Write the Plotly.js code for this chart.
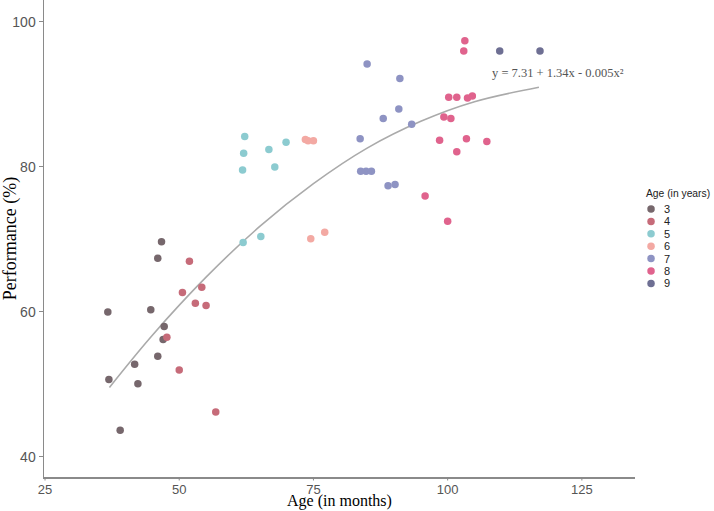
<!DOCTYPE html>
<html>
<head>
<meta charset="utf-8">
<script src="https://cdn.plot.ly/plotly-3.0.1.min.js"></script>
<style>html,body{margin:0;padding:0;background:#fff}#chart{width:714px;height:511px}</style>
</head>
<body>
<div id="chart"></div>
<script>
// ---- data ----
const ageGroups = ['3', '4', '5', '6', '7', '8', '9'];
const groupColors = ['#76676c', '#c66b79', '#8ccbd0', '#f3a9a3', '#8e93c3', '#e0638d', '#6e6f93'];

const age3Months = [46.7, 46.0, 36.7, 44.7, 47.2, 47.0, 46.0, 41.7, 36.9, 42.3, 39.0];
const age3Perf   = [69.7, 67.4, 60.0, 60.3, 58.0, 56.2, 53.9, 52.8, 50.7, 50.1, 43.7];

const age4Months = [51.9, 50.6, 54.2, 53.0, 55.0, 47.7, 50.0, 56.8];
const age4Perf   = [67.0, 62.7, 63.4, 61.2, 60.9, 56.5, 52.0, 46.2];

const age5Months = [62.2, 62.0, 61.8, 66.7, 69.9, 67.8, 61.9, 65.2];
const age5Perf   = [84.2, 81.9, 79.6, 82.4, 83.4, 80.0, 69.6, 70.4];

const age6Months = [73.5, 74.0, 75.0, 74.5, 77.1];
const age6Perf   = [83.8, 83.6, 83.6, 70.1, 71.0];

const age7Months = [85.0, 91.1, 90.9, 88.0, 93.3, 83.7, 83.8, 84.8, 85.8, 88.9, 90.2];
const age7Perf   = [94.2, 92.2, 88.0, 86.7, 85.9, 83.9, 79.4, 79.4, 79.4, 77.4, 77.6];

const age8Months = [103.0, 103.2, 100.2, 101.7, 103.7, 104.6, 99.3, 100.6, 98.5, 103.5, 107.3, 101.7, 95.8, 100.0];
const age8Perf   = [96.0, 97.4, 89.6, 89.6, 89.5, 89.8, 86.9, 86.7, 83.7, 83.9, 83.5, 82.1, 76.0, 72.5];

const age9Months = [109.7, 117.2];
const age9Perf   = [96.0, 96.0];

// fitted quadratic curve
const fitMonths = [37, 45, 55, 65, 75, 85, 95, 105, 117];
const fitPerf   = [49.6, 56.8, 64.8, 71.8, 77.7, 82.6, 86.3, 89.0, 91.0];
const fitLabel = 'y = 7.31 + 1.34x - 0.005x²';

const xTicks = [25, 50, 75, 100, 125];
const yTicks = [40, 60, 80, 100];
const xTitle = 'Age (in months)';
const yTitle = 'Performance (%)';
const legendTitle = 'Age (in years)';

// ---- build ----
const monthsByGroup = [age3Months, age4Months, age5Months, age6Months, age7Months, age8Months, age9Months];
const perfByGroup = [age3Perf, age4Perf, age5Perf, age6Perf, age7Perf, age8Perf, age9Perf];

const traces = [];
traces.push({
  x: fitMonths, y: fitPerf, type: 'scatter', mode: 'lines',
  line: {color: '#aaaaaa', width: 1.6, shape: 'spline', smoothing: 1},
  hoverinfo: 'skip', showlegend: false
});
ageGroups.forEach((g, i) => {
  traces.push({
    x: monthsByGroup[i], y: perfByGroup[i], type: 'scatter', mode: 'markers',
    name: g, marker: {color: groupColors[i], size: 7.5, line: {width: 0}},
    showlegend: false
  });
});

// custom compact legend drawn on a helper axis (pixel-like units)
const legendDotX = 651, legendTextX = 662, legendTop = 209, legendGap = 12.4;
traces.push({
  x: ageGroups.map(() => legendDotX),
  y: ageGroups.map((g, i) => legendTop + i * legendGap),
  xaxis: 'x2', yaxis: 'y2', type: 'scatter', mode: 'markers',
  marker: {color: groupColors, size: 7.5}, hoverinfo: 'skip', showlegend: false
});

const plotH = 477;
const annotations = [{
  x: 107.9, y: 92.9, xref: 'x', yref: 'y', text: fitLabel, showarrow: false,
  xanchor: 'left', yanchor: 'middle',
  font: {family: 'Liberation Serif, serif', size: 12.5, color: '#555555'}
}, {
  x: 644, y: legendTop - 16, xref: 'x2', yref: 'y2', text: legendTitle, showarrow: false,
  xanchor: 'left', yanchor: 'middle',
  font: {family: 'Liberation Sans, Arial, sans-serif', size: 10.3, color: '#222222'}
}, {
  // x-axis title, placed in the bottom margin
  x: 0.5, y: -33.5 / plotH, xref: 'x domain', yref: 'paper', text: xTitle, showarrow: false,
  xanchor: 'center', yanchor: 'bottom', borderpad: 0,
  font: {family: 'Liberation Serif, serif', size: 16, color: '#000000'}
}];
ageGroups.forEach((g, i) => {
  annotations.push({
    x: legendTextX, y: legendTop + i * legendGap, xref: 'x2', yref: 'y2', text: g,
    showarrow: false, xanchor: 'left', yanchor: 'middle',
    font: {family: 'Liberation Sans, Arial, sans-serif', size: 11, color: '#222222'}
  });
});

const axisColor = '#8a8a8a';

// x tick marks as short segments under the axis line
const shapes = xTicks.map(v => ({
  type: 'line', xref: 'x', yref: 'paper', x0: v, x1: v, y0: 0, y1: -3.5 / plotH,
  line: {color: axisColor, width: 1}
}));

const layout = {
  width: 714, height: 511,
  margin: {l: 44, r: 0, t: 0, b: 34, pad: 0},
  paper_bgcolor: '#ffffff', plot_bgcolor: '#ffffff',
  showlegend: false,
  xaxis: {
    domain: [0, 0.8821], range: [24.81, 134.9],
    tickvals: xTicks, ticktext: xTicks.map(String),
    showline: true, linecolor: axisColor, linewidth: 1.5,
    ticks: '',
    tickfont: {family: 'Liberation Sans, Arial, sans-serif', size: 13, color: '#555555'},
    showgrid: false, zeroline: false
  },
  yaxis: {
    domain: [0, 1], range: [37.24, 103.03],
    tickvals: yTicks, ticktext: yTicks.map(String),
    showline: true, linecolor: axisColor, linewidth: 1.5,
    ticks: 'outside', ticklen: 4, tickcolor: axisColor, tickwidth: 1,
    tickfont: {family: 'Liberation Sans, Arial, sans-serif', size: 14, color: '#555555'},
    showgrid: false, zeroline: false,
    title: {text: yTitle, font: {family: 'Liberation Serif, serif', size: 18, color: '#000000'}, standoff: 4}
  },
  xaxis2: {domain: [0.8896, 1], range: [640, 714], anchor: 'y2', visible: false, fixedrange: true},
  yaxis2: {domain: [0, 1], range: [477, 0], anchor: 'x2', visible: false, fixedrange: true},
  shapes: shapes,
  annotations: annotations
};

Plotly.newPlot('chart', traces, layout, {displayModeBar: false, staticPlot: true});
</script>
</body>
</html>
